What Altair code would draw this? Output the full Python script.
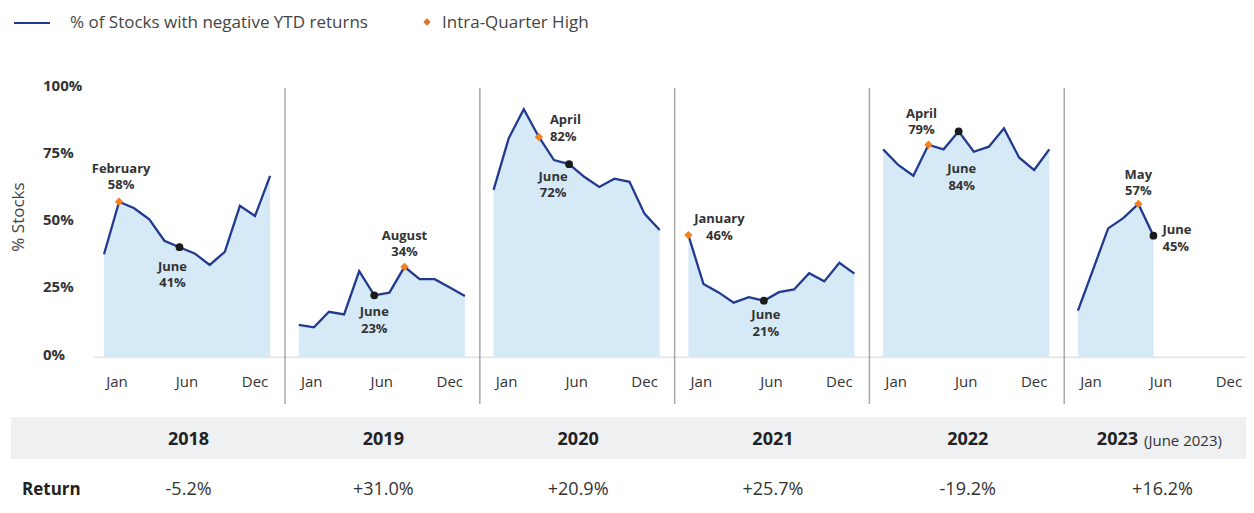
import altair as alt
import pandas as pd

# ---------------- data ----------------
YEARS = ["2018", "2019", "2020", "2021", "2022", "2023"]
V2018 = [38.3, 57.8, 55.4, 51.3, 43.3, 40.9, 38.6, 34.3, 39.2, 56.3, 52.5, 67.4]
V2019 = [12.0, 11.1, 16.9, 15.9, 32.0, 23.0, 24.0, 33.6, 29.0, 29.0, 25.9, 22.8]
V2020 = [62.2, 81.4, 92.2, 81.9, 73.3, 71.8, 67.1, 63.3, 66.4, 65.2, 53.3, 47.3]
V2021 = [45.4, 27.2, 24.1, 20.3, 22.3, 21.0, 24.2, 25.2, 31.2, 28.2, 35.1, 31.1]
V2022 = [77.3, 71.5, 67.5, 79.0, 77.3, 84.0, 76.4, 78.3, 85.1, 74.3, 69.6, 77.3]
V2023 = [17.3, 32.6, 47.9, 51.7, 57.0, 45.2]
SERIES = [V2018, V2019, V2020, V2021, V2022, V2023]

HIGH_MONTH = [2, 8, 4, 1, 4, 5]
HIGH_NAME = ["February", "August", "April", "January", "April", "May"]
HIGH_LABEL = ["58%", "34%", "82%", "46%", "79%", "57%"]
JUNE_MONTH = 6
JUNE_LABEL = ["41%", "23%", "72%", "21%", "84%", "45%"]
RETURNS = ["-5.2%", "+31.0%", "+20.9%", "+25.7%", "-19.2%", "+16.2%"]
TICK_NAMES = ["Jan", "Jun", "Dec"]
Y_TICKS = [0, 25, 50, 75, 100]

# ---------------- layout / style ----------------
W, H = 1238, 497
STEP = 12.9                      # panel step in month units
TICK_POS = [0.86, 5.5, 10.0]     # month-unit offsets of Jan/Jun/Dec labels in a panel
CENTER = 5.6
SEP = 11.99
FONT = "Open Sans"
TXT = "#333333"
NAVY = "#1f3a8f"
FILL = "#d6e9f7"
ORANGE = "#f08224"
LH = 16.5

XS = alt.Scale(domain=[-96 / 15.1, (W - 96) / 15.1], nice=False, zero=False)
YS = alt.Scale(domain=[(349.2 - H) / 2.689, 349.2 / 2.689], nice=False, zero=False)

def X(f="u"):
    return alt.X(f"{f}:Q", scale=XS, axis=None)

def Y(f="v"):
    return alt.Y(f"{f}:Q", scale=YS, axis=None)

rows = []
for i, (yr, vals) in enumerate(zip(YEARS, SERIES)):
    for m, v in enumerate(vals, start=1):
        rows.append({"year": yr, "u": i * STEP + m - 1, "v": v})
series = pd.DataFrame(rows)

pts = []
for i, yr in enumerate(YEARS):
    hm = HIGH_MONTH[i]
    pts.append({"year": yr, "kind": "high", "u": i * STEP + hm - 1, "v": SERIES[i][hm - 1],
                "t": HIGH_NAME[i] + "\n" + HIGH_LABEL[i]})
    pts.append({"year": yr, "kind": "june", "u": i * STEP + JUNE_MONTH - 1, "v": SERIES[i][JUNE_MONTH - 1],
                "t": "June\n" + JUNE_LABEL[i]})
points = pd.DataFrame(pts)

one = pd.DataFrame({"k": [0]})
layers = []

# table band
layers.append(alt.Chart(one).mark_rect(color="#eff0f2").encode(
    x=alt.value(3), x2=alt.value(W), y=alt.value(409), y2=alt.value(451)))

# baseline
layers.append(alt.Chart(one).mark_rule(color="#e8e8e8", strokeWidth=2).encode(
    x=alt.value(86), x2=alt.value(W), y=alt.Y(datum=0, scale=YS, axis=None)))

# separators
sep = pd.DataFrame({"u": [i * STEP + SEP for i in range(len(YEARS) - 1)]})
layers.append(alt.Chart(sep).mark_rule(color="#a8a8a8", strokeWidth=1.5).encode(
    x=X(), y=alt.value(80), y2=alt.value(396)))

# area + line
layers.append(alt.Chart(series).mark_area(color=FILL, opacity=1).encode(
    x=X(), y=Y(), y2=alt.Y2(datum=0), detail="year:N"))
layers.append(alt.Chart(series).mark_line(color=NAVY, strokeWidth=2.3).encode(
    x=X(), y=Y(), detail="year:N"))

# markers
layers.append(alt.Chart(points).transform_filter("datum.kind == 'june'").mark_point(
    shape="circle", filled=True, color="#1a1a1a", size=60, opacity=1).encode(x=X(), y=Y()))
layers.append(alt.Chart(points).transform_filter("datum.kind == 'high'").mark_point(
    shape="diamond", filled=True, color=ORANGE, size=70, opacity=1).encode(x=X(), y=Y()))

# annotations: (dx, dy, align) for high then june, per year; dy = offset of block centre
ANN_HIGH = [(2, -25, "center"), (0, -23, "center"), (11, -8.5, "left"),
            (31, -7.5, "center"), (-7, -23, "center"), (0, -21, "center")]
ANN_JUNE = [(-7, 28, "center"), (0, 25, "center"), (-16, 21, "center"),
            (2, 23, "center"), (3, 46, "center"), (9, 3, "left")]
for i, yr in enumerate(YEARS):
    for kind, st in (("high", ANN_HIGH[i]), ("june", ANN_JUNE[i])):
        dx, dy, al = st
        layers.append(alt.Chart(points).transform_filter(
            f"datum.year == '{yr}' && datum.kind == '{kind}'").mark_text(
            font=FONT, fontSize=13, fontWeight="bold", color=TXT, lineBreak="\n",
            lineHeight=LH, align=al, baseline="middle", dx=dx, dy=dy - LH / 2).encode(
            x=X(), y=Y(), text="t:N"))

# month tick labels
ticks = pd.DataFrame([{"u": i * STEP + p, "t": n} for i in range(len(YEARS))
                      for p, n in zip(TICK_POS, TICK_NAMES)])
layers.append(alt.Chart(ticks).mark_text(font=FONT, fontSize=15, color=TXT, baseline="middle").encode(
    x=X(), y=alt.value(374), text="t:N"))

# y labels + title
ylab = pd.DataFrame({"v": Y_TICKS, "t": [f"{t}%" for t in Y_TICKS]})
layers.append(alt.Chart(ylab).mark_text(font=FONT, fontSize=15, fontWeight="bold", color=TXT,
                                        align="left", baseline="middle", dy=-2.5).encode(
    x=alt.value(35), y=Y(), text="t:N"))
layers.append(alt.Chart(one).mark_text(text="% Stocks", font=FONT, fontSize=17, color="#444444",
                                       angle=270, align="center", baseline="middle").encode(
    x=alt.value(11), y=alt.value(209)))

# legend
layers.append(alt.Chart(one).mark_rule(color=NAVY, strokeWidth=2).encode(
    x=alt.value(6), x2=alt.value(42), y=alt.value(15)))
layers.append(alt.Chart(one).mark_text(text="% of Stocks with negative YTD returns", font=FONT,
                                       fontSize=17, color="#444444", align="left", baseline="middle").encode(
    x=alt.value(62), y=alt.value(15)))
layers.append(alt.Chart(one).mark_point(shape="diamond", filled=True, color="#d9742b", size=55, opacity=1).encode(
    x=alt.value(419), y=alt.value(14)))
layers.append(alt.Chart(one).mark_text(text="Intra-Quarter High", font=FONT,
                                       fontSize=17, color="#444444", align="left", baseline="middle").encode(
    x=alt.value(434), y=alt.value(15)))

# table: years
tab = pd.DataFrame({"u": [i * STEP + CENTER for i in range(len(YEARS))], "year": YEARS, "ret": RETURNS})
layers.append(alt.Chart(tab).transform_filter("datum.year != '2023'").mark_text(
    font=FONT, fontSize=18, fontWeight="bold", color="#222222", baseline="middle").encode(
    x=X(), y=alt.value(432), text="year:N"))
layers.append(alt.Chart(tab).transform_filter("datum.year == '2023'").mark_text(
    font=FONT, fontSize=18, fontWeight="bold", color="#222222", baseline="middle", align="right", dx=-24.5).encode(
    x=X(), y=alt.value(432), text="year:N"))
layers.append(alt.Chart(tab).transform_filter("datum.year == '2023'").mark_text(
    text="(June 2023)", font=FONT, fontSize=15, color="#333333", baseline="middle", align="left", dx=-18.5).encode(
    x=X(), y=alt.value(433)))
layers.append(alt.Chart(one).mark_text(text="Return", font=FONT, fontSize=17, fontWeight="bold",
                                       color="#222222", align="left", baseline="middle").encode(
    x=alt.value(14), y=alt.value(482)))
layers.append(alt.Chart(tab).mark_text(font=FONT, fontSize=18, color="#333333", baseline="middle").encode(
    x=X(), y=alt.value(482), text="ret:N"))

chart = alt.layer(*layers).properties(
    width=W, height=H, padding=0, autosize=alt.AutoSizeParams(type="none")
).configure_view(stroke=None)

chart.save("out.html", embed_options={"renderer": "svg", "actions": False})
